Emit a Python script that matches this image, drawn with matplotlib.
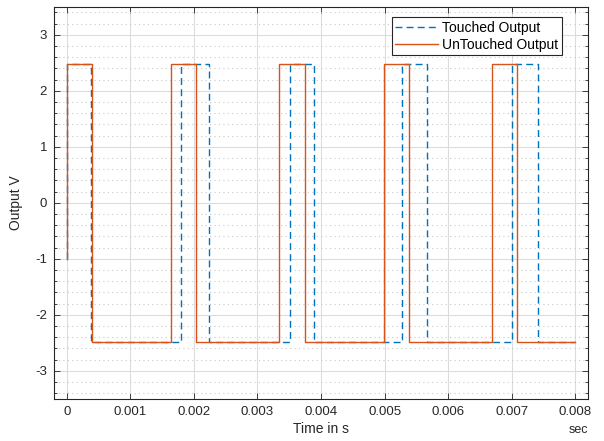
import numpy as np
import matplotlib.pyplot as plt
from matplotlib.ticker import MultipleLocator, FuncFormatter

plt.rcParams['font.family'] = ['Liberation Sans', 'DejaVu Sans']
plt.rcParams['axes.unicode_minus'] = False

# edge times in ms
untouched_rise = [0.0, 1.648, 3.344, 4.992, 6.695]
untouched_fall = [0.403, 2.033, 3.741, 5.380, 7.085]
touched_rise = [0.0, 1.797, 3.516, 5.270, 7.000]
touched_fall = [0.381, 2.245, 3.893, 5.662, 7.415]
level_high = 2.48
level_low = -2.49
level_start = -1.0
t_end = 8.0

def squareWave(rises, falls):
	t = [rises[0]]
	v = [level_start]
	for r, f in zip(rises, falls):
		t += [r, r, f, f]
		v += [level_low, level_high, level_high, level_low]
	t.append(t_end)
	v.append(level_low)
	# first point sits on start level, not low
	v[1] = level_start
	return np.array(t) / 1000.0, np.array(v)

blue = '#0072BD'
orange = '#D95319'

fig = plt.figure(figsize=(6.04, 4.41), dpi=100)
ax = fig.add_axes([0.0894, 0.0959, 0.8841, 0.8889])

t1, v1 = squareWave(touched_rise, touched_fall)
t2, v2 = squareWave(untouched_rise, untouched_fall)
ax.plot(t1, v1, color=blue, lw=1.0, dashes=(5, 3), label='Touched Output')
ax.plot(t2, v2, color=orange, lw=1.0, label='UnTouched Output')

ax.set_xlim(-0.0002, 0.0082)
ax.set_ylim(-3.5, 3.5)
ax.xaxis.set_major_locator(MultipleLocator(0.001))
ax.xaxis.set_major_formatter(FuncFormatter(lambda x, p: '0' if abs(x) < 1e-9 else '{:.3f}'.format(x)))
ax.yaxis.set_major_locator(MultipleLocator(1))
ax.yaxis.set_minor_locator(MultipleLocator(0.2))

ax.grid(True, which='major', color='#dcdcdc', lw=0.8, ls='-')
ax.grid(True, which='minor', axis='y', color='#c8c8c8', lw=0.8, ls=(0, (1, 3)))
ax.set_axisbelow(True)

for s in ax.spines.values():
	s.set_color('#262626')
	s.set_linewidth(0.8)
ax.tick_params(which='both', direction='in', top=True, right=True, colors='#262626', labelsize=9.5, pad=5, width=0.6)
ax.tick_params(which='major', length=4)
ax.tick_params(which='minor', length=2)

ax.set_xlabel('Time in s', fontsize=10, color='#262626', labelpad=3)
ax.set_ylabel('Output V', fontsize=10, color='#262626', labelpad=9)
ax.annotate('sec', xy=(1.0, -0.08), xycoords='axes fraction', ha='right', va='center', fontsize=9, color='#262626')

leg = ax.legend(loc='upper right', bbox_to_anchor=(0.951, 0.973), fontsize=10, fancybox=False, framealpha=1,
	edgecolor='#262626', borderaxespad=0, handlelength=3.1, borderpad=0.25, labelspacing=0.2, handletextpad=0.3)
leg.get_frame().set_linewidth(0.8)

fig.savefig('out.png', dpi=100)
